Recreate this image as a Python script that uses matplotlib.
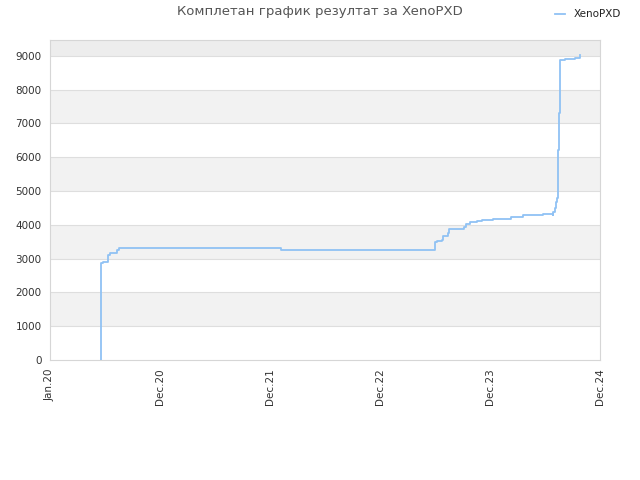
import numpy as np
import matplotlib
matplotlib.use("Agg")
import matplotlib.pyplot as plt

# x in tick-interval units (0 = Jan.20, 1 = Dec.20, ... 5 = Dec.24)
pos = [0.468, 0.468, 0.479, 0.527, 0.545, 0.609, 0.623, 2.10, 3.50, 3.515,
       3.56, 3.57, 3.62, 3.63, 3.76, 3.78, 3.82, 3.88, 3.93, 4.03,
       4.19, 4.30, 4.485, 4.57, 4.575, 4.59, 4.60, 4.605, 4.615, 4.625,
       4.635, 4.68, 4.77, 4.82]
score = [0, 2860, 2890, 3110, 3160, 3260, 3300, 3270, 3480, 3520,
         3550, 3670, 3770, 3870, 3930, 4010, 4070, 4110, 4140, 4165,
         4245, 4285, 4320, 4285, 4390, 4490, 4690, 4790, 6220, 7300,
         8880, 8910, 8950, 9020]
tick_labels = ["Jan.20", "Dec.20", "Dec.21", "Dec.22", "Dec.23", "Dec.24"]
y_ticks = list(range(0, 9001, 1000))

fig = plt.figure(figsize=(6.4, 4.8), dpi=100)
ax = fig.add_axes([50 / 640, 120 / 480, 550 / 640, 320 / 480])

ymax = 9470
# alternating bands
for lo in range(1000, 9001, 2000):
    hi = min(lo + 1000, ymax)
    ax.axhspan(lo, hi, color="#f2f2f2" if lo < 9000 else "#ededed", zorder=0, lw=0)
for y in y_ticks[1:]:
    ax.axhline(y, color="#dedede", lw=0.8, zorder=1)

ax.step(pos, score, where="post", color="#90c2f4", lw=1.3, zorder=3, label="XenoPXD")

ax.set_xlim(0, 5)
ax.set_ylim(0, ymax)
ax.set_xticks(range(len(tick_labels)))
ax.set_xticklabels(tick_labels, rotation=90)
ax.set_yticks(y_ticks)
ax.tick_params(length=0, labelsize=7.5, colors="#333333", pad=6)
for s in ax.spines.values():
    s.set_color("#d6d6d6")
    s.set_linewidth(0.8)

fig.text(0.5, 0.975, "Комплетан график резултат за XenoPXD", ha="center", va="center",
         fontsize=9.5, color="#555555")
fig.legend(loc="upper right", bbox_to_anchor=(0.985, 1.0), frameon=False,
           handlelength=1.0, fontsize=7.5, labelcolor="#222222")

fig.savefig("out.png", dpi=100)
